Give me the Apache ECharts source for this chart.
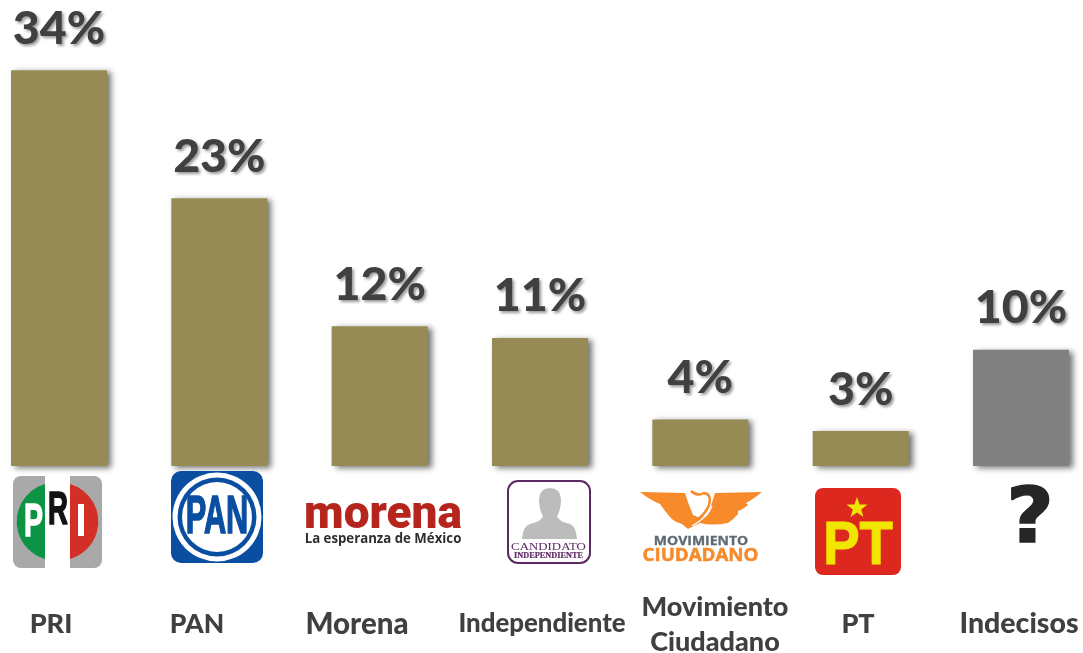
<!DOCTYPE html>
<html><head><meta charset="utf-8">
<style>html,body{margin:0;padding:0;background:#fff}#c{width:1083px;height:653px}</style>
<script src="https://cdn.jsdelivr.net/npm/echarts@6/dist/echarts.min.js"></script>
</head><body><div id="c"></div>
<script>
var categories = ['PRI','PAN','Morena','Independiente','Movimiento\nCiudadano','PT','Indecisos'];
var values = [34,23,12,11,4,3,10];
var barColors = ['#968b54','#968b54','#968b54','#968b54','#968b54','#968b54','#808080'];
var labelCenters = [51,197,357,542,715,858,1019];
var labelMiddles = [624,624,624,624,625,624,624];
var labelSizes = [27,26.5,29.5,25.8,27,27,28.5];
var FONT = 'Lato';

function txt(x,y,t,size,color,opt){
  opt = opt||{};
  return {type:'text',x:x,y:y,scaleX:opt.sx||1,scaleY:opt.sy||1,z:5,silent:true,style:{text:t,fontFamily:opt.family||'"Liberation Sans"',fontWeight:opt.weight||'bold',fontSize:size,fill:color,stroke:opt.stroke?color:null,lineWidth:opt.stroke||0,align:'center',verticalAlign:'middle'}};
}
function rr(x,y,w,h,r,fill,stroke,lw,z){
  return {type:'rect',z:z||3,silent:true,shape:{x:x,y:y,width:w,height:h,r:r},style:{fill:fill,stroke:stroke||null,lineWidth:lw||0}};
}
function circ(cx,cy,r,fill){return {type:'circle',z:3,silent:true,shape:{cx:cx,cy:cy,r:r},style:{fill:fill}};}
var shapeCount = 0;
function pth(d,fill,stroke,lw){
  var name = 'logoPath'+(shapeCount++);
  echarts.graphic.registerShape(name, echarts.graphic.extendPath(d));
  return {type:name,z:4,silent:true,style:{fill:fill,stroke:stroke||null,lineWidth:lw||0}};
}

var logos = [
  // PRI
  rr(13,476,89,92,8,'#a9a9a9'),
  rr(45,476,25,92,0,'#ffffff'),
  pth('M45 484 A39 39 0 0 0 45 559 Z','#0c9444'),
  pth('M70 484 A39 39 0 0 1 70 559 Z','#d32f27'),
  txt(33.5,523,'P',46,'#ffffff',{sx:0.62,stroke:1.4}),
  txt(58,511,'R',46,'#111111',{sx:0.6,stroke:1.6}),
  txt(81,523,'I',46,'#ffffff',{sx:0.9}),
  // PAN
  rr(171,471,92,92,10,'#0a4ea2'),
  circ(217,517,44.5,'#ffffff'),
  circ(217,517,39.5,'#0a4ea2'),
  circ(217,517,35,'#ffffff'),
  txt(217,518,'PAN',53,'#0a4ea2',{sx:0.58,stroke:1.6,family:'"Liberation Sans Narrow","Liberation Sans"'}),
  // Morena
  txt(383,516.5,'morena',46,'#b5251e',{family:'Roboto',weight:'900'}),
  txt(383,539,'La esperanza de México',13.5,'#2e2e2e',{family:'"Open Sans"',sx:0.98}),
  // Candidato
  rr(508,481,82,82,10,'#ffffff','#5c2a63',2),
  pth('M550 488 Q560 488 561 499 Q561 510 557 516 Q558 521 570 524 Q576 526 577 539 L522 539 Q523 526 530 524 Q542 521 543 516 Q539 510 539 499 Q540 488 550 488 Z','#bcbcbc'),
  txt(548.5,547,'CANDIDATO',11,'#5c2a63',{family:'"Liberation Serif"',weight:'normal',sx:1.17}),
  txt(548.5,556,'INDEPENDIENTE',7.5,'#5c2a63',{family:'"Liberation Serif"',sx:1.1,stroke:0.2}),
  // Movimiento Ciudadano
  pth('M640 492 L685 493 Q688 503 693 515 L700 518 L708 515 Q712 503 715 493 L762 492 Q752 500 746 503 L748 505 Q742 510 738 511 L738 514 Q733 520 728 523 Q712 526 700 523 L688 529 L682 524 Q674 522 670 517 Q664 510 660 504 Q650 500 640 492 Z','#f78a2a'),
  pth('M691 491 Q698 497 704 493 Q712 494 709 505 Q706 513 698 519','none','#f78a2a',2.4),
  pth('M712 506 Q708 517 692 526','none','#ffffff',1.3),
  txt(701,541,'MOVIMIENTO',12.5,'#5f6b74',{family:'"Open Sans"',sx:1.12,stroke:0.3}),
  txt(700.5,556,'CIUDADANO',18,'#f78a2a',{family:'"Open Sans"',sx:1.04,stroke:0.5}),
  // PT
  rr(815,488,86,87,8,'#dc281e'),
  pth('M857 497 L859.6 504.6 L867.5 504.6 L861.2 509.4 L863.5 517 L857 512.4 L850.5 517 L852.8 509.4 L846.5 504.6 L854.4 504.6 Z','#f0e600'),
  txt(858,546.5,'PT',62,'#f0e600',{sx:0.88,stroke:1.2}),
  // Question mark
  txt(1030,522,'?',76,'#262626',{sx:1.08,family:'"DejaVu Sans"',stroke:1.5})
];

var catLabels = categories.map(function(c,i){
  return {type:'text',x:labelCenters[i],y:labelMiddles[i],z:6,silent:true,
    style:{text:c,fontFamily:FONT,fontWeight:900,fontSize:labelSizes[i],lineHeight:35,fill:'#404040',align:'center',verticalAlign:'middle'}};
});

var chart = echarts.init(document.getElementById('c'),null,{renderer:'canvas'});
chart.setOption({
  animation:false,
  backgroundColor:'#ffffff',
  grid:{left:59,top:0.5,width:962,height:465.5,containLabel:false},
  xAxis:{type:'category',data:categories,boundaryGap:false,show:false},
  yAxis:{type:'value',min:0,max:40,show:false},
  series:[{
    type:'bar',
    barWidth:96,
    clip:false,
    data:values.map(function(v,i){return {value:v,itemStyle:{color:barColors[i]}};}),
    itemStyle:{shadowColor:'rgba(0,0,0,0.55)',shadowBlur:6,shadowOffsetX:4,shadowOffsetY:2},
    label:{show:true,position:'top',distance:18,formatter:'{c}%',fontFamily:FONT,fontWeight:900,fontSize:46.5,color:'#404040',
      textShadowColor:'rgba(0,0,0,0.4)',textShadowBlur:3,textShadowOffsetX:2,textShadowOffsetY:2}
  }],
  graphic:{elements:logos.concat(catLabels)}
});
</script></body></html>
